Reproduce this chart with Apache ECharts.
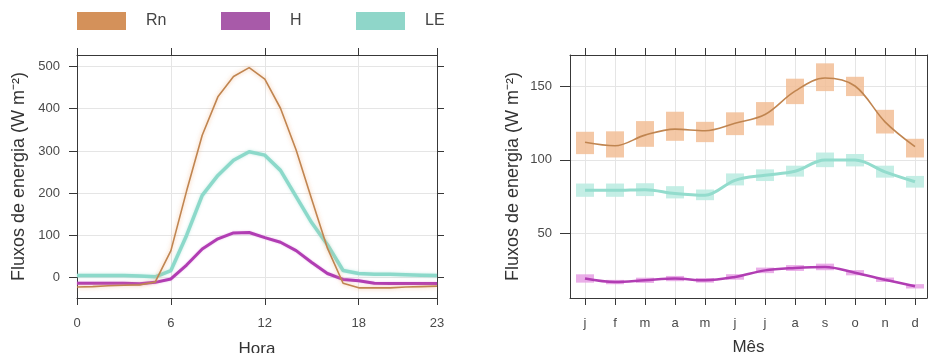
<!DOCTYPE html>
<html><head><meta charset="utf-8">
<script src="https://cdn.jsdelivr.net/npm/echarts@6/dist/echarts.min.js"></script>
<style>html,body{margin:0;padding:0;background:#fff}#c{width:931px;height:353px}</style>
</head><body><div id="c"></div>
<script>
// ---- Left panel: hourly means ----
const hours = [0,1,2,3,4,5,6,7,8,9,10,11,12,13,14,15,16,17,18,19,20,21,22,23];
const rnHour = [-22,-21,-19,-18,-17,-10,64,205,337,428,476,497,470,401,302,185,70,-13,-24,-24,-24,-22,-21,-20];
const hHour  = [-13,-13,-13,-13,-14,-11,-3,30,68,92,106,107,95,84,64,36,10,-4,-7,-13,-13.5,-13.5,-13.5,-13.5];
const leHour = [5,5,5,5,4,2,17,100,195,242,278,298,290,254,192,130,78,17,10,8,8,7,6,5];
const hourTicks = [0,6,12,18,23];
const leftYTicks = [0,100,200,300,400,500];

// ---- Right panel: monthly means with error boxes ----
const months = ['j','f','m','a','m','j','j','a','s','o','n','d'];
const rnMonth   = [112,109.6,116.9,121,119.9,125,131,147,156,150.5,126,109];
const rnMonthLo = [103.9,101.6,108.9,113,112.1,116.9,123.5,138.1,147,143.6,118,101.6];
const rnMonthHi = [119.2,119.5,126.5,132.9,126,132.5,139.5,155.5,166,156.8,134.2,114.4];
const leMonth   = [79.2,79.2,79.6,77,75.8,86,89.5,92.2,99.8,99.8,91.8,85];
const leMonthLo = [74.7,74.7,75.2,73.6,72.4,82.5,85.5,88.5,95,95.5,87.8,81];
const leMonthHi = [83.8,83.8,84,82,79.7,90.7,93.5,96,105,104,96,89];
const hMonth    = [18.8,16.4,17.6,18.8,17.6,19.9,24.4,26,26.7,22.8,18,13.5];
const hMonthLo  = [16,14.9,15.8,17,16,18,22.5,24,24.5,21,16.5,12];
const hMonthHi  = [21.7,17.9,19.4,20.6,19.2,21.8,26.3,28,29,24.6,19.5,15];
const rightYTicks = [50,100,150];

const FONT = 'Liberation Sans, Arial, sans-serif';
const AX = '#383838';
const LBL = '#4a4a4a';
const C_RN = '#c08550', C_H = '#b13db3', C_LE = '#8cd9ca';

const chart = echarts.init(document.getElementById('c'), null, {renderer:'canvas'});

function axisBase(extra){
  return Object.assign({
    axisLine:{show:true, onZero:false, lineStyle:{color:AX, width:1}},
    splitLine:{show:false},
  }, extra);
}

function boxSeries(name, xi, yi, lo, hi, fill){
  return {
    type:'custom', name: name+'_box', xAxisIndex:xi, yAxisIndex:yi, silent:true, z:1,
    data: lo.map((v,i)=>[i, v, hi[i]]),
    renderItem: function(params, api){
      const x = api.value(0);
      const p1 = api.coord([x, api.value(2)]);
      const p2 = api.coord([x, api.value(1)]);
      return {type:'rect', shape:{x:p1[0]-9, y:p1[1], width:18, height:p2[1]-p1[1]}, style:{fill:fill}};
    }
  };
}

const legendText = {fontSize:16, color:'#444', fontFamily:FONT, padding:[0,0,0,15]};
const option = {
  animation:false,
  backgroundColor:'#fff',
  textStyle:{fontFamily:FONT},
  legend:[
    {left:77, top:12, padding:0, itemWidth:49, itemHeight:18, selectedMode:false, textStyle:legendText,
     data:[{name:'Rn', icon:'rect', itemStyle:{color:'#d4915a'}}]},
    {left:221, top:12, padding:0, itemWidth:49, itemHeight:18, selectedMode:false, textStyle:legendText,
     data:[{name:'H', icon:'rect', itemStyle:{color:'#a85aa9'}}]},
    {left:356, top:12, padding:0, itemWidth:49, itemHeight:18, selectedMode:false, textStyle:legendText,
     data:[{name:'LE', icon:'rect', itemStyle:{color:'#8fd6c9'}}]}
  ],
  grid:[
    {left:77, top:55, width:360, height:243, containLabel:false, outerBoundsMode:'none'},
    {left:570, top:55, width:357, height:243, containLabel:false, outerBoundsMode:'none'}
  ],
  xAxis:[
    axisBase({type:'value', gridIndex:0, position:'bottom', min:0, max:23,
      axisTick:{show:true, length:7, lineStyle:{color:AX}, customValues:hourTicks},
      axisLabel:{show:true, margin:19, fontSize:13, color:LBL, fontFamily:FONT, customValues:hourTicks},
      splitLine:{show:true, lineStyle:{color:'#e5e5e5', width:1}},
      name:'Hora', nameLocation:'middle', nameGap:43,
      nameTextStyle:{fontSize:17, color:'#333', fontFamily:FONT}}),
    axisBase({type:'value', gridIndex:0, position:'top', min:0, max:23,
      axisTick:{show:true, length:7, lineStyle:{color:AX}, customValues:hourTicks},
      axisLabel:{show:false}}),
    axisBase({type:'value', gridIndex:1, position:'bottom', min:-0.5, max:11.4,
      axisTick:{show:true, length:7, lineStyle:{color:AX}, customValues:months.map((m,i)=>i)},
      axisLabel:{show:true, margin:19, fontSize:13, color:LBL, fontFamily:FONT,
        customValues:months.map((m,i)=>i), formatter:(v)=>months[Math.round(v)]},
      splitLine:{show:true, lineStyle:{color:'#e5e5e5', width:1}},
      name:'Mês', nameLocation:'middle', nameGap:41,
      nameTextStyle:{fontSize:17, color:'#333', fontFamily:FONT}}),
    axisBase({type:'value', gridIndex:1, position:'top', min:-0.5, max:11.4,
      axisTick:{show:true, length:7, lineStyle:{color:AX}, customValues:months.map((m,i)=>i)},
      axisLabel:{show:false}})
  ],
  yAxis:[
    axisBase({type:'value', gridIndex:0, position:'left', min:-48, max:527,
      axisTick:{show:true, length:8, lineStyle:{color:AX}, customValues:leftYTicks},
      axisLabel:{show:true, margin:17, fontSize:13, color:LBL, fontFamily:FONT, customValues:leftYTicks},
      splitLine:{show:true, lineStyle:{color:'#e5e5e5', width:1}},
      name:'Fluxos de energia (W m⁻²)', nameLocation:'middle', nameGap:49, nameRotate:90,
      nameTextStyle:{fontSize:18, color:'#333', fontFamily:FONT}}),
    axisBase({type:'value', gridIndex:0, position:'right', min:-48, max:527,
      axisTick:{show:true, length:7, lineStyle:{color:AX}, customValues:leftYTicks},
      axisLabel:{show:false}}),
    axisBase({type:'value', gridIndex:1, position:'left', min:5.5, max:171.7,
      axisTick:{show:true, length:10, lineStyle:{color:AX}, customValues:rightYTicks},
      axisLabel:{show:true, margin:18, fontSize:13, color:LBL, fontFamily:FONT, customValues:rightYTicks},
      splitLine:{show:true, lineStyle:{color:'#e5e5e5', width:1}},
      name:'Fluxos de energia (W m⁻²)', nameLocation:'middle', nameGap:48, nameRotate:90,
      nameTextStyle:{fontSize:18, color:'#333', fontFamily:FONT}}),
    axisBase({type:'value', gridIndex:1, position:'right', min:5.5, max:171.7,
      axisTick:{show:false}, axisLabel:{show:false}})
  ],
  series:[
    {type:'line', name:'LE', xAxisIndex:0, yAxisIndex:0, data:hours.map((h,i)=>[h, leHour[i]]),
      symbol:'none', lineStyle:{color:C_LE, width:3.5, shadowColor:'rgba(140,217,202,0.5)', shadowBlur:3}, z:3},
    {type:'line', name:'H', xAxisIndex:0, yAxisIndex:0, data:hours.map((h,i)=>[h, hHour[i]]),
      symbol:'none', lineStyle:{color:C_H, width:3, shadowColor:'rgba(220,140,220,0.6)', shadowBlur:2}, z:4},
    {type:'line', name:'Rn', xAxisIndex:0, yAxisIndex:0, data:hours.map((h,i)=>[h, rnHour[i]]),
      symbol:'none', lineStyle:{color:C_RN, width:1.6, shadowColor:'rgba(240,165,110,0.7)', shadowBlur:4}, z:5},

    boxSeries('Rn', 2, 2, rnMonthLo, rnMonthHi, 'rgba(242,190,150,0.85)'),
    boxSeries('LE', 2, 2, leMonthLo, leMonthHi, 'rgba(190,236,226,0.9)'),
    boxSeries('H', 2, 2, hMonthLo, hMonthHi, 'rgba(230,160,228,0.85)'),
    {type:'line', name:'Rn', xAxisIndex:2, yAxisIndex:2, data:months.map((m,i)=>[i, rnMonth[i]]),
      smooth:0.35, symbol:'none', lineStyle:{color:C_RN, width:1.6}, z:5},
    {type:'line', name:'LE', xAxisIndex:2, yAxisIndex:2, data:months.map((m,i)=>[i, leMonth[i]]),
      smooth:0.35, symbol:'none', lineStyle:{color:'#93dccd', width:3}, z:5},
    {type:'line', name:'H', xAxisIndex:2, yAxisIndex:2, data:months.map((m,i)=>[i, hMonth[i]]),
      smooth:0.35, symbol:'none', lineStyle:{color:C_H, width:2.5}, z:5}
  ]
};
chart.setOption(option);
</script>
</body></html>
